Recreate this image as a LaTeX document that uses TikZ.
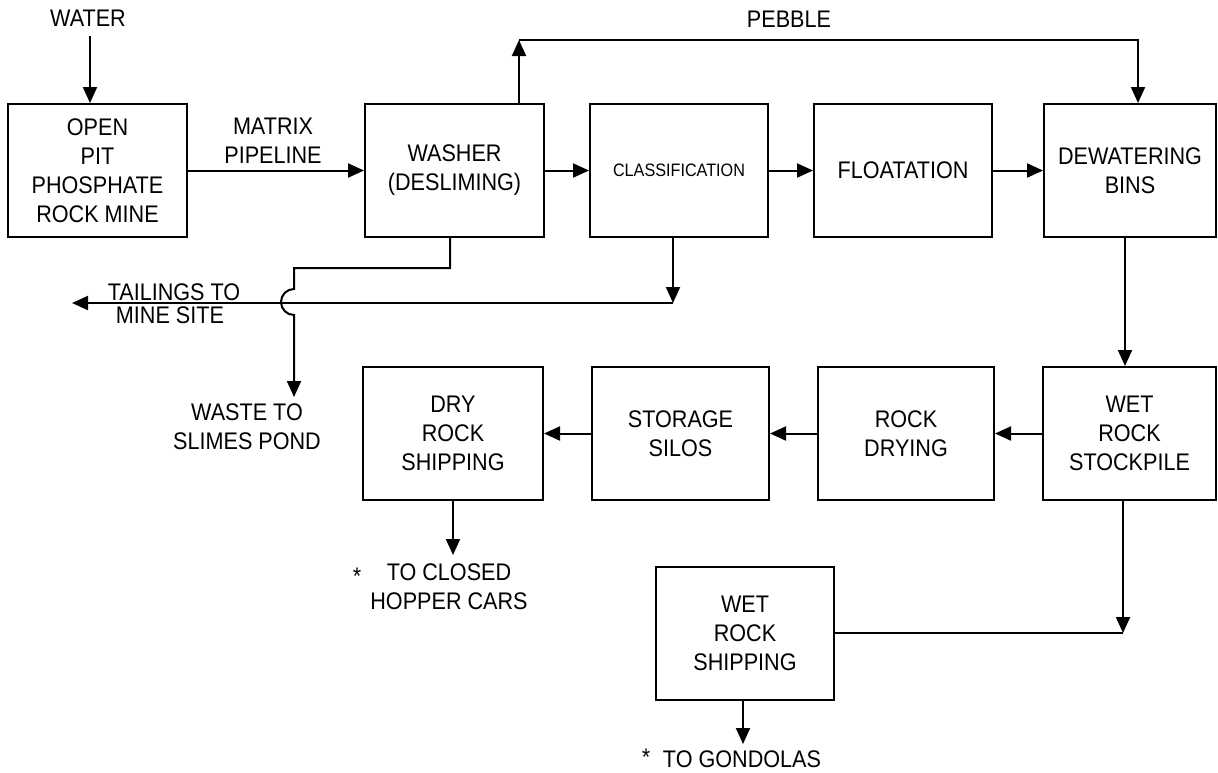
\documentclass[tikz,border=0pt]{standalone}
\usepackage{fontspec}
\setmainfont{Liberation Sans}[FakeStretch=0.9]
\usetikzlibrary{arrows.meta}
\newcommand{\mainsz}{\fontsize{12pt}{14.5pt}\selectfont}
\newcommand{\smallsz}{\fontsize{9pt}{11pt}\selectfont}
\begin{document}
\begin{tikzpicture}[x=0.5pt,y=-0.5pt,
  blk/.style={draw,line width=1pt,inner sep=0pt,minimum height=66.5pt,minimum width=89pt,align=center,font=\mainsz},
  lbl/.style={inner sep=0pt,align=center,font=\mainsz},
  arr/.style={line width=1pt,-{Triangle[length=8pt,width=7pt]}},
  ln/.style={line width=1pt},
  starnode/.style={inner sep=0pt,font=\mainsz}]
\useasboundingbox[fill=white] (0,0) rectangle (1218,772);

% top row
\node[blk,minimum width=89.5pt] (mine) at (97.5,170.5) {OPEN\\PIT\\PHOSPHATE\\ROCK MINE};
\node[blk,minimum width=89.5pt] (washer) at (454.5,170.5) {WASHER\\(DESLIMING)};
\node[blk,font=\smallsz] (class) at (679,170.5) {CLASSIFICATION};
\node[blk] (float) at (903,170.5) {FLOATATION};
\node[blk,minimum width=86pt] (dewater) at (1130,170.5) {DEWATERING\\BINS};

% bottom row
\node[blk,minimum width=86.5pt] (stockpile) at (1129.5,433.5) {WET\\ROCK\\STOCKPILE};
\node[blk,minimum width=88pt] (rockdry) at (906,433.5) {ROCK\\DRYING};
\node[blk,minimum width=88.5pt] (silos) at (680.5,433.5) {STORAGE\\SILOS};
\node[blk,minimum width=90pt] (dryship) at (453,433.5) {DRY\\ROCK\\SHIPPING};
\node[blk] (wetship) at (745,633) {WET\\ROCK\\SHIPPING};

% labels
\node[lbl] (water) at (88,18) {WATER};
\node[lbl] (pebble) at (789,19) {PEBBLE};
\node[lbl] (matrix) at (273,140.5) {MATRIX\\PIPELINE};
\node[lbl] (tail1) at (174,292) {TAILINGS TO};
\node[lbl] (tail2) at (170,315) {MINE SITE};
\node[lbl] (waste) at (247,426.5) {WASTE TO\\SLIMES POND};
\node[lbl] (hopper) at (449,586.5) {TO CLOSED\\HOPPER CARS};
\node[lbl] (gondolas) at (742,759) {TO GONDOLAS};
\node[starnode] (star1) at (357,576) {*};
\node[starnode] (star2) at (646,757) {*};

% coordinates
\coordinate (wtop) at (90,36);
\coordinate (pu) at (519,40);
\coordinate (pd) at (1138,40);
\coordinate (ds) at (1125,300);
\coordinate (hop) at (453,555);
\coordinate (jn) at (1123,633);
\coordinate (gon) at (743,744);
\coordinate (w1) at (450,268);
\coordinate (w2) at (294,268);
\coordinate (b1) at (294,289);
\coordinate (slime) at (294,397);
\coordinate (t1) at (673,303);
\coordinate (t2) at (72,303);

% connectors
\draw[arr] (wtop) -- (wtop |- mine.north);
\draw[arr] (mine.east) -- (washer.west);
\draw[arr] (washer.east) -- (class.west);
\draw[arr] (class.east) -- (float.west);
\draw[arr] (float.east) -- (dewater.west);
\draw[arr] (washer.north -| pu) -- (pu);
\draw[arr] (pu) -- (pd) -- (pd |- dewater.north);
\draw[arr] (dewater.south -| ds) -- (stockpile.north -| ds);
\draw[arr] (stockpile.west) -- (rockdry.east);
\draw[arr] (rockdry.west) -- (silos.east);
\draw[arr] (silos.west) -- (dryship.east);
\draw[arr] (dryship.south -| hop) -- (hop);
\draw[arr] (stockpile.south -| jn) -- (jn);
\draw[ln] (wetship.east) -- (jn);
\draw[arr] (wetship.south -| gon) -- (gon);
\draw[arr] (class.south -| t1) -- (t1);
\draw[arr] (t1) -- (t2);
\draw[arr] (washer.south -| w1) -- (w1) -- (w2) -- (b1) arc[start angle=90,end angle=270,radius=6.5pt] -- (slime);
\end{tikzpicture}
\end{document}
